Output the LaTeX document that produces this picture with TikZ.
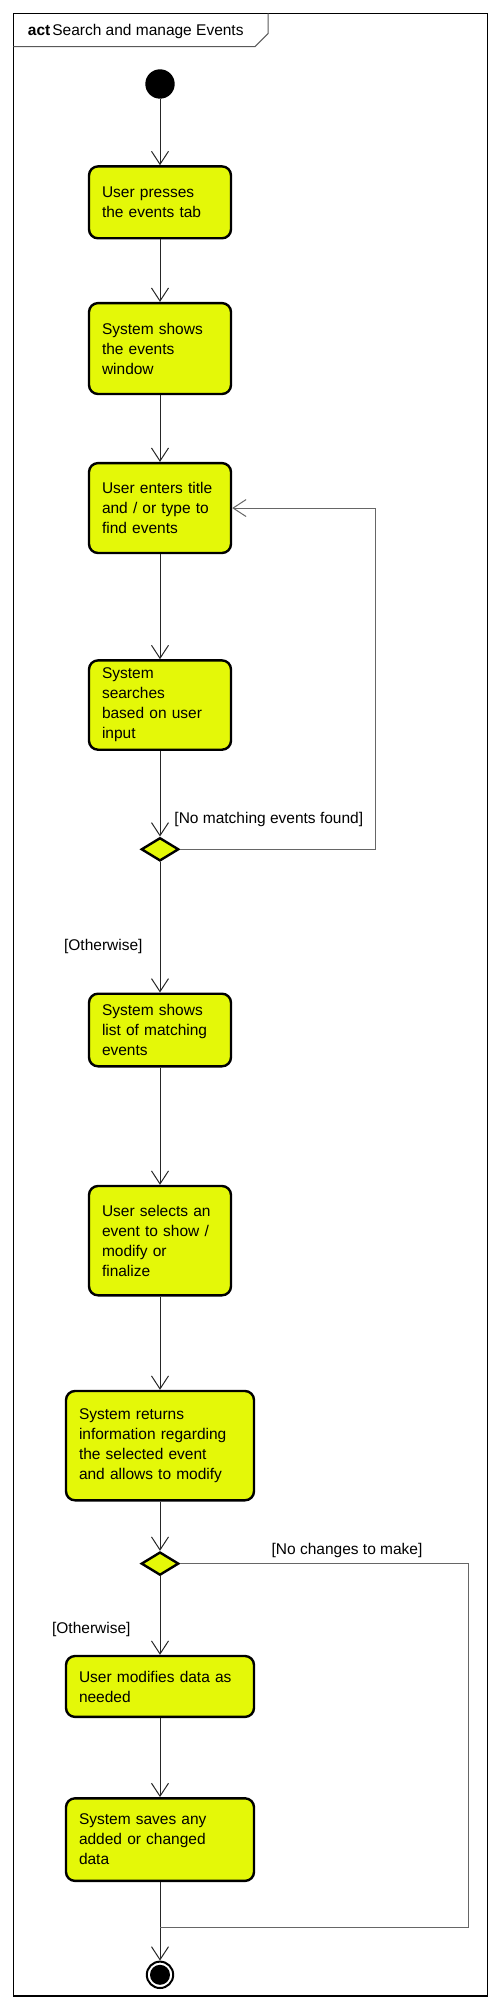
\documentclass[tikz,border=0pt]{standalone}
\usepackage{fontspec}
\setmainfont{Liberation Sans}
\usepackage{tikz}
\usetikzlibrary{arrows.meta, positioning, shapes.geometric}
\definecolor{actfill}{RGB}{228,248,8}

\begin{document}
\begin{tikzpicture}[x=1pt, y=1pt, font=\fontsize{15.5pt}{20pt}\selectfont]
\tikzstyle{action}=[rectangle, draw, fill=actfill, line width=2.4pt,
  rounded corners=9pt, align=left, text width=116pt, inner xsep=13pt]
\tikzstyle{wideaction}=[action, text width=162pt]
\tikzstyle{decision}=[diamond, draw, fill=actfill, line width=2.4pt,
  minimum width=37.5pt, minimum height=23.2pt, inner sep=0pt]
\tikzstyle{startstate}=[circle, fill=black, minimum size=29.4pt, inner sep=0pt]
\tikzstyle{endstate}=[circle, draw, fill=white, line width=2pt,
  minimum size=26.4pt, inner sep=0pt,
  path picture={\fill [black] (path picture bounding box.center) circle (10pt);}]
\tikzstyle{arrow}=[-{Straight Barb[length=13pt, width=17pt]}, line width=1pt, black!85]
\tikzstyle{backflow}=[arrow, black!60]
\tikzstyle{flowline}=[line width=1pt, black!60]
\tikzstyle{guard}=[inner sep=0pt, black]

\useasboundingbox (0,0) rectangle (501,-2009);
% frame
\draw [line width=1.4pt] (13.3,-13.3) rectangle (487.3,-1996);
\draw [black!65, line width=1pt] (13.3,-46.7) -- (255,-46.7) -- (268,-33.7) -- (268,-13.3);
\node (title) [guard, anchor=west] at (27.7,-31.7)
  {\textbf{act}\hspace{2pt}Search and manage Events};

\node (start) [startstate] at (160,-84) {};
\node (presstab) [action, minimum height=71.9pt, below=66.3pt of start]
  {User presses\\the events tab};
\node (showwindow) [action, minimum height=90.9pt, below=62.4pt of presstab]
  {System shows\\the events\\window};
\node (entersearch) [action, minimum height=89.9pt, below=66.7pt of showwindow]
  {User enters title\\and / or type to\\find events};
\node (search) [action, minimum height=89.3pt, below=105pt of entersearch]
  {System\\searches\\based on user\\input};
\node (matchdec) [decision, below=85.6pt of search] {};
\node (showlist) [action, minimum height=72.6pt, below=130.4pt of matchdec]
  {System shows\\list of matching\\events};
\node (selectevent) [action, minimum height=109.3pt, below=117.3pt of showlist]
  {User selects an\\event to show /\\modify or\\finalize};
\node (returninfo) [wideaction, minimum height=109.3pt, below=93.3pt of selectevent]
  {System returns\\information regarding\\the selected event\\and allows to modify};
\node (changedec) [decision, below=49.3pt of returninfo] {};
\node (modifydata) [wideaction, minimum height=60.9pt, below=78.4pt of changedec]
  {User modifies data as\\needed};
\node (savedata) [wideaction, minimum height=82.6pt, below=79pt of modifydata]
  {System saves any\\added or changed\\data};
\node (final) [endstate, below=78.5pt of savedata] {};

\draw [arrow] (start) -- (presstab);
\draw [arrow] (presstab) -- (showwindow);
\draw [arrow] (showwindow) -- (entersearch);
\draw [arrow] (entersearch) -- (search);
\draw [arrow] (search) -- (matchdec);
\draw [arrow] (matchdec) -- node [guard, left=17pt, pos=0.65] {[Otherwise]} (showlist);
\draw [backflow] (matchdec.east) -| ([xshift=143.5pt]entersearch.east)
  node [guard, pos=0, anchor=west, xshift=-6pt, yshift=30pt] {[No matching events found]}
  -- (entersearch.east);
\draw [arrow] (showlist) -- (selectevent);
\draw [arrow] (selectevent) -- (returninfo);
\draw [arrow] (returninfo) -- (changedec);
\draw [arrow] (changedec) -- node [guard, left=29pt, pos=0.675] {[Otherwise]} (modifydata);
\draw [arrow] (modifydata) -- (savedata);
\draw [arrow] (savedata) -- (final);
\coordinate (merge) at ([yshift=-45pt]savedata.south);
\draw [flowline] (changedec.east) -| node [guard, pos=0.29, above=5pt] {[No changes to make]}
  ([xshift=308pt]merge) -- (merge);
\end{tikzpicture}
\end{document}
